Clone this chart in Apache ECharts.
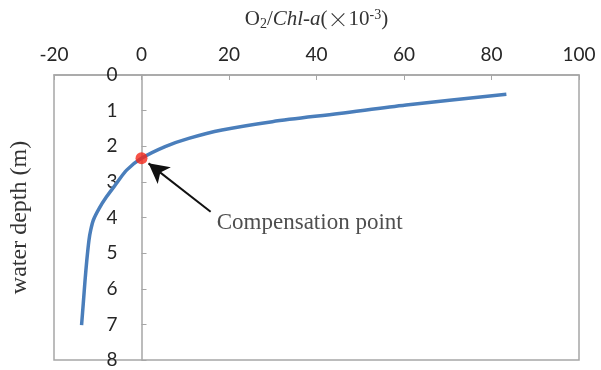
<!DOCTYPE html>
<html>
<head>
<meta charset="utf-8">
<script src="https://cdn.jsdelivr.net/npm/echarts@6/dist/echarts.min.js"></script>
<style>
  html, body { margin: 0; padding: 0; background: #fff; }
  #chart { width: 601px; height: 370px; }
</style>
</head>
<body>
<div id="chart"></div>
<script>
// Depth profile of the O2 / Chl-a ratio
const depth = [0.54, 0.84, 1.08, 1.31, 1.545, 1.78, 2.01, 2.34, 2.67, 3.04, 3.42, 3.75, 4.07, 4.35, 4.63, 5.2, 5.76, 6.4, 7.02];
const ratio = [83.4, 60.5, 45.2, 29.9, 18.4, 10.8, 5.4, 0, -3.4, -5.7, -8.0, -9.7, -11.0, -11.6, -12.0, -12.5, -12.9, -13.3, -13.7];

// Compensation point (ratio = 0)
const compRatio = 0;
const compDepth = 2.34;

// Annotation arrow and its caption
const arrowFrom = [15.8, 3.84];
const arrowTo = [1.6, 2.48];
const captionAt = [17.2, 4.16];
const captionText = 'Compensation point';

const xTicks = { min: -20, max: 100, step: 20 };
const yTicks = { min: 0, max: 8, step: 1 };

const gridBox = { left: 54, right: 22, top: 75, bottom: 10 };
const chartWidth = 601;
// The depth axis sits on ratio = 0; shift it from the grid's left edge by that amount
const plotWidth = chartWidth - gridBox.left - gridBox.right;
const zeroOffset = (0 - xTicks.min) / (xTicks.max - xTicks.min) * plotWidth;

const axisGray = '#a6a6a6';
const tickFont = 'Lato, "Open Sans", sans-serif';
const serif = '"Liberation Serif", "DejaVu Serif", serif';
const cjk = '"Noto Sans CJK SC", sans-serif';

const chart = echarts.init(document.getElementById('chart'));
chart.setOption({
  animation: false,
  grid: Object.assign({}, gridBox, {
    outerBoundsMode: 'none', containLabel: false,
    show: true, borderColor: axisGray, borderWidth: 1.5
  }),
  xAxis: {
    type: 'value', position: 'top',
    min: xTicks.min, max: xTicks.max, interval: xTicks.step,
    axisLine: { show: true, onZero: false, lineStyle: { color: axisGray, width: 1.5 } },
    axisTick: { show: true, inside: true, length: 5, lineStyle: { color: axisGray } },
    splitLine: { show: false },
    axisLabel: { color: '#262626', fontFamily: tickFont, fontSize: 19, margin: 11 },
    name: '{n|O}{sub|2}{n|/}{i|Chl-a}{n|(}{x|×}{n|10}{sup|-3}{n|)}',
    nameLocation: 'middle', nameGap: 44, nameMoveOverlap: false,
    nameTextStyle: {
      rich: {
        n: { fontFamily: serif, fontSize: 21, color: '#333' },
        i: { fontFamily: serif, fontSize: 21, fontStyle: 'italic', color: '#333' },
        x: { fontFamily: cjk, fontSize: 21, fontWeight: 300, color: '#333' },
        sub: { fontFamily: serif, fontSize: 14, color: '#333', padding: [9, 0, 0, 0] },
        sup: { fontFamily: serif, fontSize: 14, color: '#333', padding: [0, 0, 8, 0] }
      }
    }
  },
  yAxis: {
    type: 'value', inverse: true, position: 'left', offset: -zeroOffset,
    min: yTicks.min, max: yTicks.max, interval: yTicks.step,
    axisLine: { show: true, onZero: false, lineStyle: { color: axisGray, width: 1.5 } },
    axisTick: { show: true, inside: true, length: 5, lineStyle: { color: axisGray } },
    splitLine: { show: false },
    axisLabel: { color: '#262626', fontFamily: tickFont, fontSize: 19, margin: 24 },
    name: 'water depth (m)',
    nameLocation: 'middle', nameGap: 110, nameRotate: 90, nameMoveOverlap: false,
    nameTextStyle: { fontFamily: serif, fontSize: 24, color: '#333' }
  },
  series: [
    {
      type: 'line',
      data: depth.map((d, i) => [ratio[i], d]),
      smooth: 0.3,
      showSymbol: false,
      lineStyle: { color: '#4a7ebb', width: 3.5 },
      z: 2
    },
    {
      type: 'scatter',
      data: [[compRatio, compDepth]],
      symbolSize: 12,
      itemStyle: { color: '#f5281a' },
      z: 3
    },
    {
      type: 'scatter',
      data: [captionAt],
      symbolSize: 0,
      label: {
        show: true, position: 'right', distance: 0,
        formatter: captionText,
        fontFamily: serif, fontSize: 23, color: '#222'
      },
      markLine: {
        silent: true,
        symbol: ['none', 'arrow'],
        symbolSize: [16, 20],
        label: { show: false },
        lineStyle: { color: '#111', width: 2, type: 'solid' },
        data: [[{ coord: arrowFrom }, { coord: arrowTo }]]
      },
      z: 4
    }
  ]
});
</script>
</body>
</html>
